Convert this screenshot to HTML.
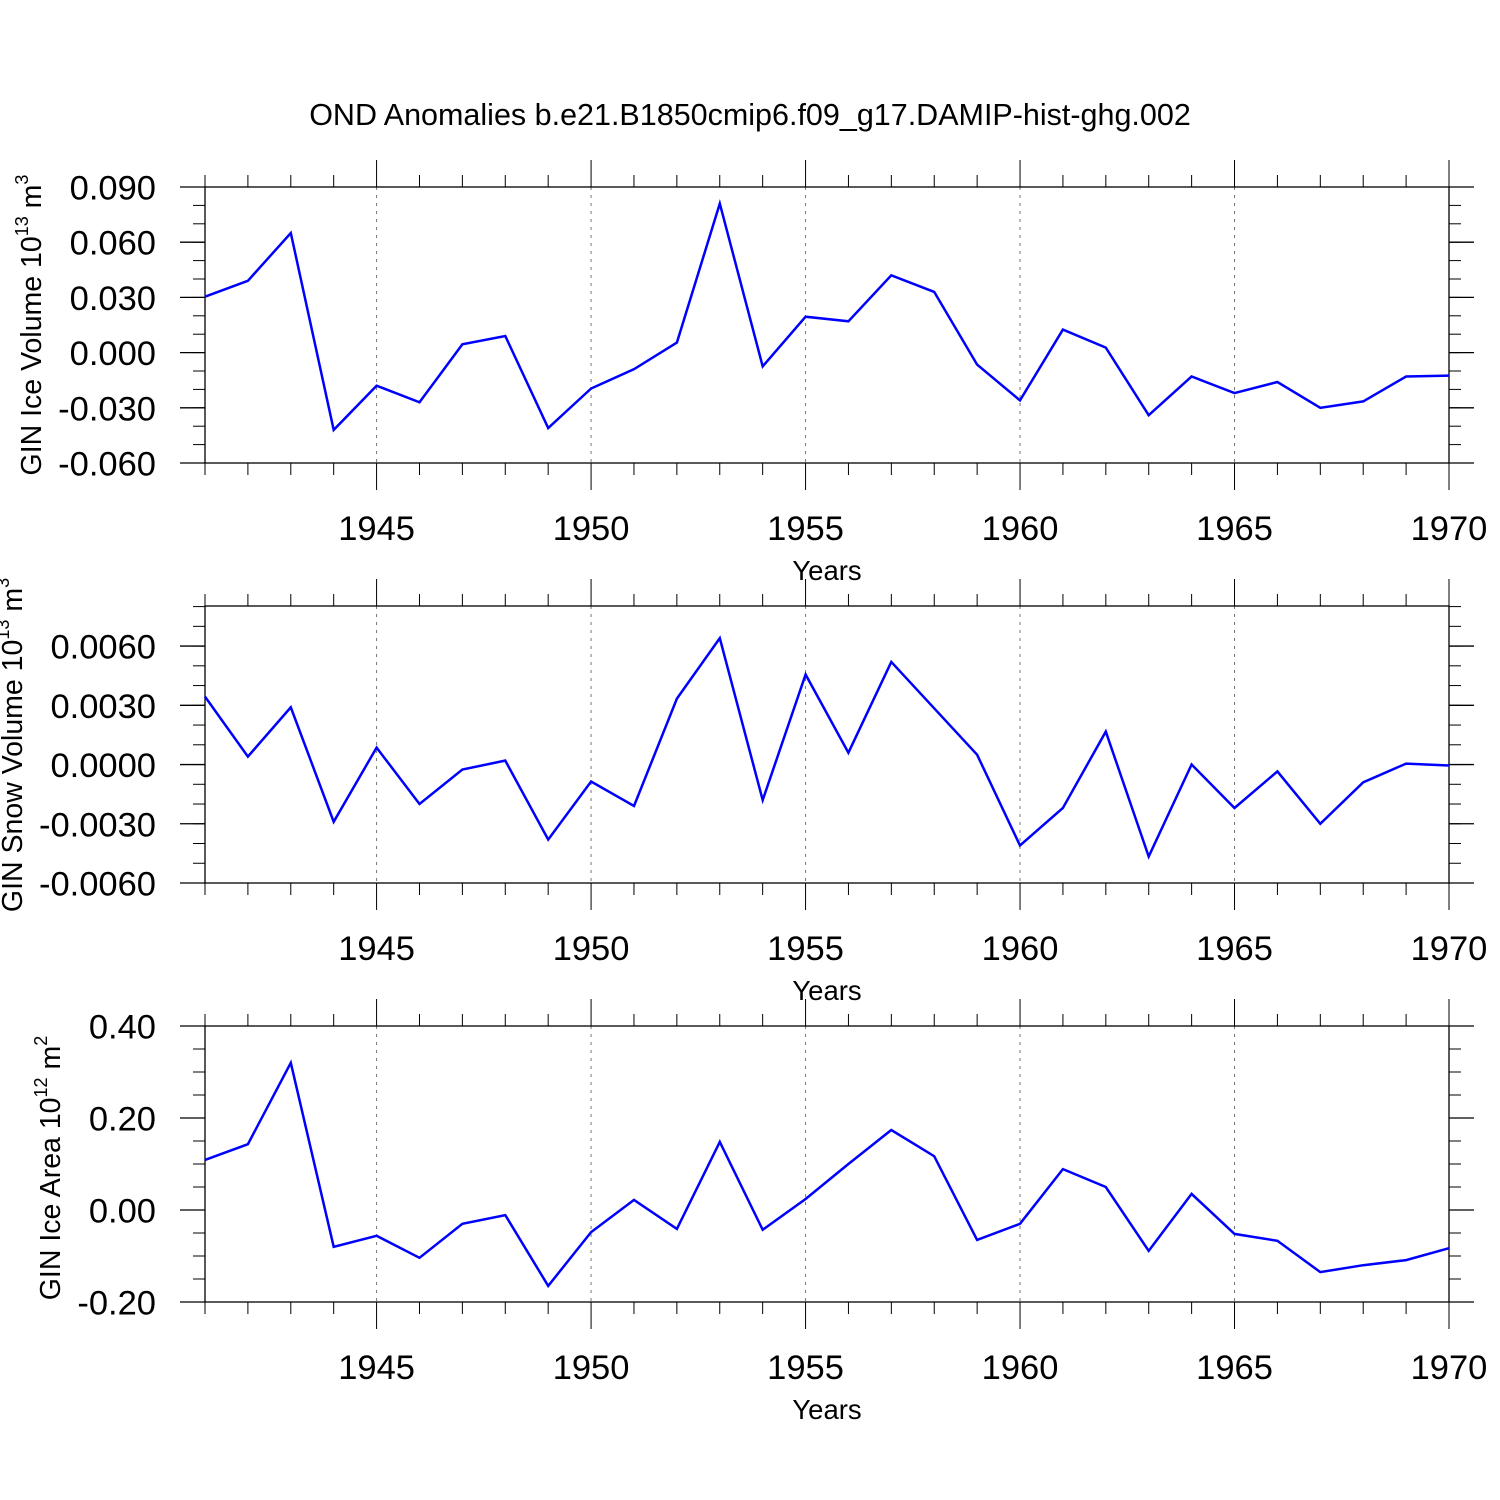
<!DOCTYPE html>
<html><head><meta charset="utf-8"><style>
body{margin:0;background:#fff}
svg{display:block;font-family:"Liberation Sans",sans-serif}
</style></head><body>
<svg id="chart" width="1500" height="1500" viewBox="0 0 1500 1500">
<text x="750" y="125" text-anchor="middle" font-size="30.5">OND Anomalies b.e21.B1850cmip6.f09_g17.DAMIP-hist-ghg.002</text>
</svg>
<script>
const years = [];
for (let y = 1941; y <= 1970; y++) years.push(y);
const iceVolume = [0.0304,0.039,0.065,-0.042,-0.018,-0.027,0.0045,0.009,-0.041,-0.0195,-0.009,0.0055,0.081,-0.0075,0.0195,0.017,0.042,0.033,-0.0065,-0.026,0.0125,0.0027,-0.034,-0.013,-0.022,-0.016,-0.030,-0.0265,-0.013,-0.0125];
const snowVolume = [0.00344,0.0004,0.0029,-0.0029,0.00086,-0.002,-0.00025,0.0002,-0.0038,-0.00086,-0.0021,0.00334,0.0064,-0.0018,0.00456,0.0006,0.0052,0.00285,0.0005,-0.0041,-0.0022,0.00167,-0.00466,0.0,-0.0022,-0.00035,-0.003,-0.0009,0.00005,-0.00005];
const iceArea = [0.109,0.143,0.32,-0.08,-0.056,-0.104,-0.03,-0.011,-0.165,-0.048,0.022,-0.041,0.148,-0.043,0.024,0.1,0.174,0.117,-0.065,-0.03,0.089,0.05,-0.089,0.035,-0.052,-0.067,-0.135,-0.12,-0.109,-0.083];
const xTickYears = [1945,1950,1955,1960,1965,1970];
const iceVolTicks = [0.09,0.06,0.03,0,-0.03,-0.06];
const iceVolTickLabels = ["0.090","0.060","0.030","0.000","-0.030","-0.060"];
const snowTicks = [0.006,0.003,0,-0.003,-0.006];
const snowTickLabels = ["0.0060","0.0030","0.0000","-0.0030","-0.0060"];
const areaTicks = [0.4,0.2,0,-0.2];
const areaTickLabels = ["0.40","0.20","0.00","-0.20"];

const svg = document.getElementById('chart');
const NS = 'http://www.w3.org/2000/svg';
function el(tag, attrs, parent){const e=document.createElementNS(NS,tag);for(const k in attrs)e.setAttribute(k,attrs[k]);(parent||svg).appendChild(e);return e;}
const X0=205,X1=1449;
function xs(yr){return X0+(yr-1941)*(X1-X0)/(1970-1941);}

function panel(name, top, bottom, vmin, vmax, ticks, labels, minorStep, data, titleHTML, titleX, titleY){
  const g = el('g',{});
  
  
  const ys = v => bottom-(v-vmin)*(bottom-top)/(vmax-vmin);
  xTickYears.forEach(yr=>{ if(yr<1970){
    const l=el('line',{x1:xs(yr),x2:xs(yr),y1:top,y2:bottom,stroke:'#777','stroke-width':1,'stroke-dasharray':'3,5'},g);
    
    
  }});
  const f=el('rect',{x:X0,y:top,width:X1-X0,height:bottom-top,fill:'none',stroke:'#000','stroke-width':1.3},g);
  
  
  years.forEach(yr=>{
    const major = xTickYears.includes(yr);
    const len = major?27:12;
    el('line',{x1:xs(yr),x2:xs(yr),y1:top-len,y2:top,stroke:'#000','stroke-width':1},g);
    el('line',{x1:xs(yr),x2:xs(yr),y1:bottom,y2:bottom+len,stroke:'#000','stroke-width':1},g);
  });
  xTickYears.forEach(yr=>{
    const t=el('text',{x:xs(yr),y:bottom+77,'text-anchor':'middle','font-size':34.5},g);
    t.textContent=yr;
    
    
  });
  const xt=el('text',{x:827,y:bottom+117,'text-anchor':'middle','font-size':27.5},g);
  xt.textContent='Years';
  
  
  const lo=Math.ceil(vmin/minorStep-1e-6);
  for(let i=lo;i*minorStep<=vmax+1e-9;i++){
    const v=i*minorStep, y=ys(v);
    el('line',{x1:X0-12,x2:X0,y1:y,y2:y,stroke:'#000','stroke-width':1},g);
    el('line',{x1:X1,x2:X1+12,y1:y,y2:y,stroke:'#000','stroke-width':1},g);
  }
  ticks.forEach((v,i)=>{
    const y=ys(v);
    el('line',{x1:X0-25,x2:X0,y1:y,y2:y,stroke:'#000','stroke-width':1.3},g);
    el('line',{x1:X1,x2:X1+25,y1:y,y2:y,stroke:'#000','stroke-width':1.3},g);
    const t=el('text',{x:156,y:y+12.5,'text-anchor':'end','font-size':34.5},g);
    t.textContent=labels[i];
    
    
  });
  const yt=el('text',{x:0,y:0,'text-anchor':'middle','font-size':28.5,transform:`translate(${titleX},${titleY}) rotate(-90)`},g);
  yt.innerHTML=titleHTML;
  
  
  const pts=data.map((v,i)=>xs(years[i]).toFixed(1)+','+ys(v).toFixed(1)).join(' ');
  const pl=el('polyline',{points:pts,fill:'none',stroke:'#0000ff','stroke-width':2.5,'stroke-linejoin':'miter'},g);
  
  
}
panel('ice-volume',187,463,-0.06,0.09,iceVolTicks,iceVolTickLabels,0.01,iceVolume,
 'GIN Ice Volume 10<tspan dy="-13" font-size="18">13</tspan><tspan dy="13"> m</tspan><tspan dy="-13" font-size="18">3</tspan>',41,325);
panel('snow-volume',606,883,-0.006,0.00803,snowTicks,snowTickLabels,0.001,snowVolume,
 'GIN Snow Volume 10<tspan dy="-13" font-size="18">13</tspan><tspan dy="13"> m</tspan><tspan dy="-13" font-size="18">3</tspan>',22,745);
panel('ice-area',1026,1302,-0.2,0.4,areaTicks,areaTickLabels,0.05,iceArea,
 'GIN Ice Area 10<tspan dy="-13" font-size="18">12</tspan><tspan dy="13"> m</tspan><tspan dy="-13" font-size="18">2</tspan>',60,1168);
</script>
</body></html>
